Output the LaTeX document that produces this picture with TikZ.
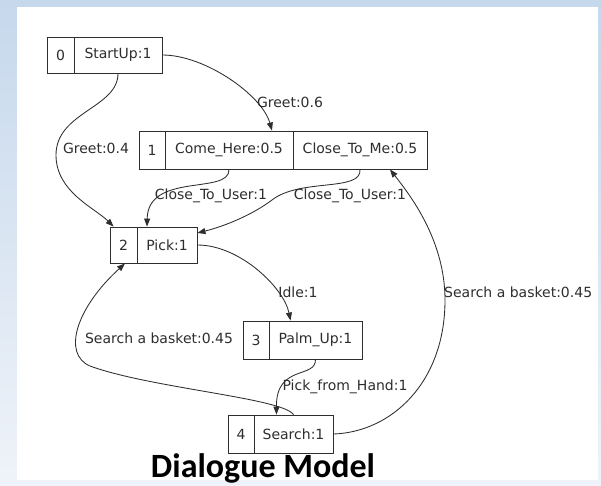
\documentclass[tikz,border=0pt]{standalone}
\usepackage{fontspec}
\setmainfont{DejaVu Sans}
\newfontfamily\titlefont{Carlito}
\usetikzlibrary{arrows.meta}
\definecolor{inkgray}{HTML}{2E2E2E}
\definecolor{frametop}{HTML}{C6D8EC}
\definecolor{framebot}{HTML}{EFF3F9}
\tikzset{
  cell/.style={draw=inkgray, line width=0.9pt, inner sep=0pt, text=inkgray,
    font=\fontsize{14}{15}\selectfont},
  edgelbl/.style={text=inkgray, inner sep=1pt, font=\fontsize{14}{15}\selectfont},
  link/.style={draw=inkgray, line width=0.85pt, -{Triangle[length=8pt,width=6pt]}},
}
\begin{document}
\begin{tikzpicture}[x=1pt,y=-1pt]
  \useasboundingbox (0,0) rectangle (601,485);
  % frame and white panel
  \shade[top color=frametop, bottom color=framebot] (0,0) rectangle (601,485);
  \fill[white] (17,7) rectangle (598,480);

  % state 0
  \node[cell, minimum width=27, minimum height=36] (n0a) at (60.5,55) {0};
  \node[cell, minimum width=88, minimum height=36] (n0b) at (118,55) {StartUp:1};
  % state 1
  \node[cell, minimum width=26, minimum height=38] (n1a) at (152,150) {1};
  \node[cell, minimum width=128, minimum height=38] (n1b) at (229,150) {Come\_Here:0.5};
  \node[cell, minimum width=134, minimum height=38] (n1c) at (360,150) {Close\_To\_Me:0.5};
  % state 2
  \node[cell, minimum width=27, minimum height=36] (n2a) at (123.5,245) {2};
  \node[cell, minimum width=60, minimum height=36] (n2b) at (167,245) {Pick:1};
  % state 3
  \node[cell, minimum width=26, minimum height=38] (n3a) at (256,340) {3};
  \node[cell, minimum width=93, minimum height=38] (n3b) at (315.5,340) {Palm\_Up:1};
  % state 4
  \node[cell, minimum width=26, minimum height=38] (n4a) at (241,434) {4};
  \node[cell, minimum width=79, minimum height=38] (n4b) at (293.5,434) {Search:1};

  % transitions
  \draw[link] (n0b.east) .. controls (205,55) and (262,95) .. ([xshift=43pt]n1b.north);
  \draw[link] (n0b.south) .. controls (118,108) and (56,112) .. (56,155)
              .. controls (56,192) and (95,208) .. ([xshift=4pt]n2a.north west);
  \draw[link] (n1b.south) .. controls (230,195) and (148,172) .. ([xshift=-20pt]n2b.north);
  \draw[link] (n1c.south) .. controls (362,192) and (300,178) .. (272,200)
              .. controls (252,215) and (225,226) .. ([yshift=12pt]n2b.east);
  \draw[link] (n2b.east) .. controls (240,245) and (284,288) .. ([xshift=-25pt]n3b.north);
  \draw[link] (n3b.south) .. controls (316,379) and (276,364) .. ([xshift=-17pt]n4b.north);
  \draw[link] (n4b.north) .. controls (282,398) and (150,388) .. (90,366)
              .. controls (62,354) and (76,308) .. ([xshift=1.5pt]n2a.south);
  \draw[link] (n4b.east) .. controls (392,432) and (445,382) .. (445,300)
              .. controls (445,240) and (410,195) .. ([xshift=30pt]n1c.south);

  % transition labels
  \node[edgelbl] (l01) at (290,102) {Greet:0.6};
  \node[edgelbl] (l02) at (96,148) {Greet:0.4};
  \node[edgelbl] (l12a) at (211,196) {Close\_To\_User:1};
  \node[edgelbl] (l12b) at (350,196) {Close\_To\_User:1};
  \node[edgelbl] (l23) at (298,292) {Idle:1};
  \node[edgelbl] (l34) at (345,387) {Pick\_from\_Hand:1};
  \node[edgelbl] (l42) at (159,338) {Search a basket:0.45};
  \node[edgelbl, anchor=west] (l41) at (443,292) {Search a basket:0.45};

  % caption
  \node[anchor=base, inner sep=0pt, font=\titlefont\bfseries\fontsize{34}{36}\selectfont]
    (title) at (263,477) {Dialogue Model};
\end{tikzpicture}
\end{document}
